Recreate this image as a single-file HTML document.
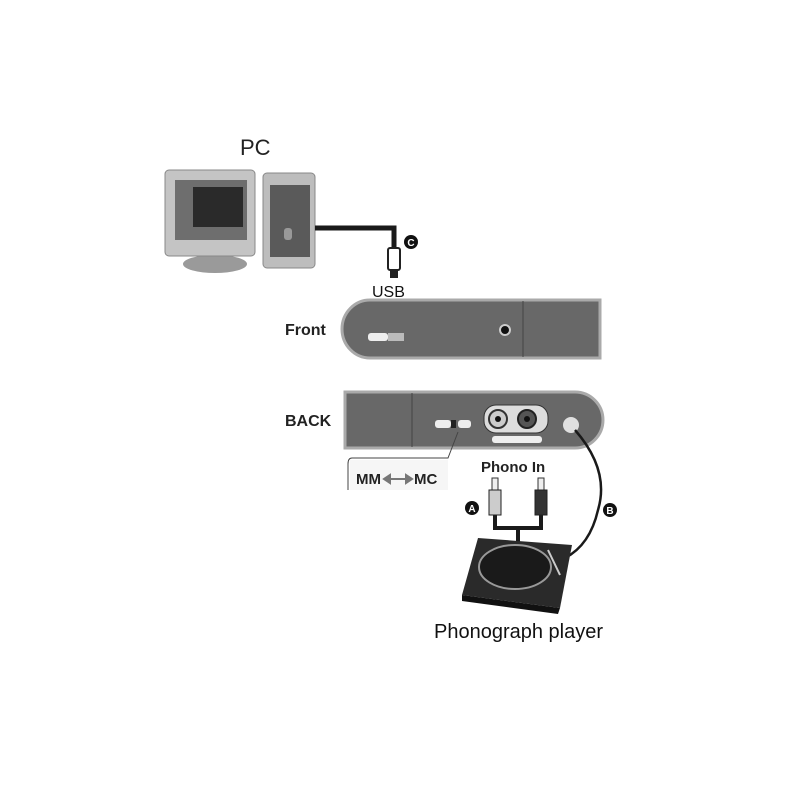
<!DOCTYPE html>
<html><head><meta charset="utf-8"><style>
body{margin:0;background:#fff;}
svg{display:block;font-family:"Liberation Sans",sans-serif;}
</style></head><body>
<svg width="800" height="800" viewBox="0 0 800 800">
<rect width="800" height="800" fill="#fff"/>
<!-- PC -->
<text x="240" y="155" font-size="22" fill="#222">PC</text>
<ellipse cx="215" cy="264" rx="32" ry="9" fill="#9a9a9a"/>
<rect x="165" y="170" width="90" height="86" rx="4" fill="#c4c4c4" stroke="#888"/>
<rect x="175" y="180" width="72" height="60" fill="#6e6e6e"/>
<rect x="193" y="187" width="50" height="40" fill="#2a2a2a"/>
<rect x="263" y="173" width="52" height="95" rx="4" fill="#bdbdbd" stroke="#888"/>
<rect x="270" y="185" width="40" height="72" fill="#5a5a5a"/>
<rect x="284" y="228" width="8" height="12" rx="3" fill="#999"/>
<!-- USB cable -->
<path d="M315 228 H394 V248" fill="none" stroke="#1a1a1a" stroke-width="5"/>
<rect x="388" y="248" width="12" height="22" rx="2" fill="#fff" stroke="#222" stroke-width="2"/>
<rect x="390" y="270" width="8" height="8" fill="#222"/>
<circle cx="411" cy="242" r="7" fill="#111"/>
<text x="411" y="246" font-size="10" font-weight="bold" fill="#fff" text-anchor="middle">C</text>
<text x="372" y="297" font-size="16" fill="#111">USB</text>
<!-- Front -->
<text x="285" y="335" font-size="16" font-weight="bold" fill="#222">Front</text>
<path d="M370 300 H600 V358 H370 A28 29 0 0 1 370 300 Z" fill="#686868" stroke="#aaa" stroke-width="3"/>
<line x1="523" y1="301" x2="523" y2="357" stroke="#444"/>
<rect x="368" y="333" width="20" height="8" rx="3" fill="#eee"/>
<rect x="388" y="333" width="16" height="8" fill="#bbb"/>
<circle cx="505" cy="330" r="5" fill="#111" stroke="#ccc" stroke-width="2"/>
<!-- BACK -->
<text x="285" y="426" font-size="16" font-weight="bold" fill="#222">BACK</text>
<path d="M345 392 H575 A28 28 0 0 1 575 448 H345 Z" fill="#686868" stroke="#aaa" stroke-width="3"/>
<line x1="412" y1="393" x2="412" y2="447" stroke="#444"/>
<rect x="435" y="420" width="16" height="8" rx="3" fill="#eee"/>
<rect x="451" y="420" width="5" height="8" fill="#222"/>
<rect x="458" y="420" width="13" height="8" rx="3" fill="#eee"/>
<rect x="484" y="405" width="64" height="28" rx="12" fill="#ddd" stroke="#333"/>
<circle cx="498" cy="419" r="9" fill="#ccc" stroke="#333" stroke-width="2"/><circle cx="498" cy="419" r="3" fill="#111"/>
<circle cx="527" cy="419" r="9" fill="#555" stroke="#222" stroke-width="2"/><circle cx="527" cy="419" r="3" fill="#111"/>
<rect x="492" y="436" width="50" height="7" rx="3" fill="#eee"/>
<circle cx="571" cy="425" r="8" fill="#e0e0e0"/>
<!-- callout -->
<path d="M458 432 L448 458 H352 Q348 458 348 464 V490" fill="none" stroke="#444"/>
<rect x="350" y="460" width="98" height="30" fill="#f6f6f6"/>
<text x="356" y="484" font-size="15" font-weight="bold" fill="#222">MM</text>
<path d="M384 479 H412 M384 479 l6 -4 v8 z M412 479 l-6 -4 v8 z" stroke="#777" stroke-width="2" fill="#777"/>
<text x="414" y="484" font-size="15" font-weight="bold" fill="#222">MC</text>
<!-- phono in -->
<text x="481" y="472" font-size="15" font-weight="bold" fill="#222">Phono In</text>
<path d="M495 515 V528 H541 V515 M518 528 V548" fill="none" stroke="#1a1a1a" stroke-width="4"/>
<rect x="492" y="478" width="6" height="12" fill="#eee" stroke="#333"/>
<rect x="489" y="490" width="12" height="25" fill="#ccc" stroke="#222"/>
<rect x="538" y="478" width="6" height="12" fill="#eee" stroke="#333"/>
<rect x="535" y="490" width="12" height="25" fill="#333" stroke="#222"/>
<circle cx="472" cy="508" r="7" fill="#111"/><text x="472" y="512" font-size="10" font-weight="bold" fill="#fff" text-anchor="middle">A</text>
<circle cx="610" cy="510" r="7" fill="#111"/><text x="610" y="514" font-size="10" font-weight="bold" fill="#fff" text-anchor="middle">B</text>
<path d="M575 430 Q610 470 598 510 Q590 545 565 558" fill="none" stroke="#1a1a1a" stroke-width="2.5"/>
<!-- turntable -->
<path d="M478 538 L572 545 L560 608 L462 595 Z" fill="#2a2a2a"/>
<path d="M462 595 L560 608 L558 614 L462 601 Z" fill="#111"/>
<ellipse cx="515" cy="567" rx="36" ry="22" fill="#1a1a1a" stroke="#999" stroke-width="2"/>
<line x1="548" y1="550" x2="560" y2="575" stroke="#ccc" stroke-width="2"/>
<text x="434" y="638" font-size="20" fill="#111">Phonograph player</text>
</svg>
</body></html>
